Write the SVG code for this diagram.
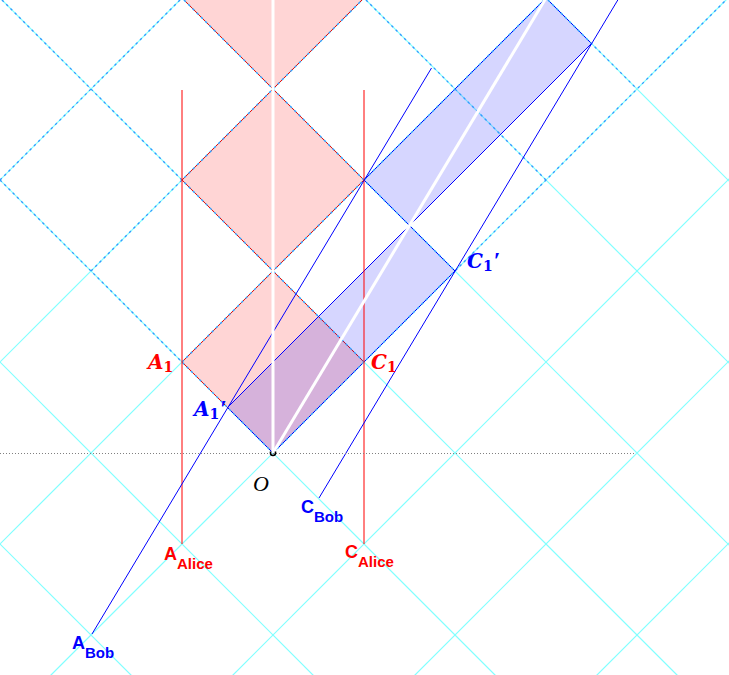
<svg xmlns="http://www.w3.org/2000/svg" width="729" height="675" viewBox="0 0 729 675">
<style>
.grid{stroke:#80ffff;stroke-width:1.2;fill:none}
.cone{stroke:#3399ff;stroke-width:1.3;stroke-dasharray:2.5,3.5;fill:none}
.alice{fill:#ff0000;fill-opacity:0.165;stroke:#ff0000;stroke-width:1}
.bob{fill:#0000ff;fill-opacity:0.16;stroke:#0000ff;stroke-width:1}
.mirrorA{stroke:#ff0000;stroke-width:1;fill:none}
.mirrorB{stroke:#0000ff;stroke-width:1;fill:none}
.axis{stroke:#ffffff;stroke-width:3;fill:none}
.math{font-family:"DejaVu Serif","Liberation Serif",serif;font-style:italic;font-weight:bold}
.prime{font-family:"Liberation Serif","DejaVu Serif",serif;font-style:normal;font-weight:bold}
.sans{font-family:"Liberation Sans",Arial,sans-serif;font-weight:bold}
.red{fill:#ff0000}
.blue{fill:#0000ff}
</style>
<rect width="729" height="675" fill="#ffffff"/>
<g id="grid">
<line class="grid" x1="-1002" y1="1000" x2="998" y2="-1000"/>
<line class="grid" x1="-820" y1="1000" x2="1180" y2="-1000"/>
<line class="grid" x1="-638" y1="1000" x2="1362" y2="-1000"/>
<line class="grid" x1="-456" y1="1000" x2="1544" y2="-1000"/>
<line class="grid" x1="-274" y1="1000" x2="1726" y2="-1000"/>
<line class="grid" x1="-92" y1="1000" x2="1908" y2="-1000"/>
<line class="grid" x1="90" y1="1000" x2="2090" y2="-1000"/>
<line class="grid" x1="272" y1="1000" x2="2272" y2="-1000"/>
<line class="grid" x1="-1544" y1="-1000" x2="456" y2="1000"/>
<line class="grid" x1="-1362" y1="-1000" x2="638" y2="1000"/>
<line class="grid" x1="-1180" y1="-1000" x2="820" y2="1000"/>
<line class="grid" x1="-998" y1="-1000" x2="1002" y2="1000"/>
<line class="grid" x1="-816" y1="-1000" x2="1184" y2="1000"/>
<line class="grid" x1="-634" y1="-1000" x2="1366" y2="1000"/>
<line class="grid" x1="-452" y1="-1000" x2="1548" y2="1000"/>
<line class="grid" x1="-270" y1="-1000" x2="1730" y2="1000"/>
</g>
<g id="alice-diamonds">
<polygon class="alice" points="273,453 182,362 273,271 364,362"/>
<polygon class="alice" points="273,271 182,180 273,89 364,180"/>
<polygon class="alice" points="273,89 182,-2 273,-93 364,-2"/>
</g>
<g id="bob-rects">
<polygon class="bob" points="273,453 227.5,407.5 409.5,225.5 455,271"/>
<polygon class="bob" points="409.5,225.5 364,180 546,-2 591.5,43.5"/>
</g>
<g id="light-cone-dashes">
<line class="cone" x1="273" y1="453" x2="726" y2="0"/>
<line class="cone" x1="182" y1="362" x2="544" y2="0"/>
<line class="cone" x1="91" y1="271" x2="362" y2="0"/>
<line class="cone" x1="0" y1="180" x2="180" y2="0"/>
<line class="cone" x1="0" y1="180" x2="273" y2="453"/>
<line class="cone" x1="2" y1="0" x2="364" y2="362"/>
<line class="cone" x1="184" y1="0" x2="455" y2="271"/>
<line class="cone" x1="366" y1="0" x2="546" y2="180"/>
<line class="cone" x1="548" y1="0" x2="637" y2="89"/>
</g>
<g id="connectors">
<line class="mirrorA" x1="182" y1="90" x2="182" y2="544"/>
<line class="mirrorA" x1="364" y1="90" x2="364" y2="544"/>
<line class="mirrorB" x1="92" y1="634" x2="431.5" y2="68"/>
<line class="mirrorB" x1="319" y1="498" x2="617.8" y2="0"/>
<line class="axis" x1="273" y1="453" x2="273" y2="0"/>
<line class="axis" x1="273" y1="453" x2="546" y2="-2"/>
<line x1="0" y1="453.5" x2="635" y2="453.5" stroke="#808080" stroke-width="1" stroke-dasharray="1,2"/>
</g>
<g id="O">
<path d="M270.5,451.5 v1.5 a2.5,2.5 0 0 0 5,0 v-1.5" fill="none" stroke="#000000" stroke-width="1.6"/>
<text x="253" y="491" font-size="22" font-family="'Liberation Serif','DejaVu Serif',serif" font-style="italic" fill="#000000">O</text>
</g>
<g id="A1">
<text class="math red" x="148" y="369" font-size="20">A<tspan font-size="14" font-style="normal" dy="3">1</tspan></text>
</g>
<g id="C1">
<text class="math red" x="371" y="369" font-size="20">C<tspan font-size="14" font-style="normal" dy="3">1</tspan></text>
</g>
<g id="A1p">
<text class="math blue" x="194" y="416" font-size="20">A<tspan font-size="14" font-style="normal" dy="3">1</tspan><tspan class="prime" font-size="24" dx="1" dy="-3">′</tspan></text>
</g>
<g id="C1p">
<text class="math blue" x="467" y="268" font-size="20">C<tspan font-size="14" font-style="normal" dy="3">1</tspan><tspan class="prime" font-size="24" dx="1" dy="-3">′</tspan></text>
</g>
<g id="A_Alice">
<text class="sans red" x="164" y="560" font-size="18">A<tspan font-size="15" dy="9">Alice</tspan></text>
</g>
<g id="C_Alice">
<text class="sans red" x="345" y="558" font-size="18">C<tspan font-size="15" dy="9">Alice</tspan></text>
</g>
<g id="C_Bob">
<text class="sans blue" x="301" y="513" font-size="18">C<tspan font-size="15" dy="9">Bob</tspan></text>
</g>
<g id="A_Bob">
<text class="sans blue" x="72" y="649" font-size="18">A<tspan font-size="15" dy="9">Bob</tspan></text>
</g>
</svg>
